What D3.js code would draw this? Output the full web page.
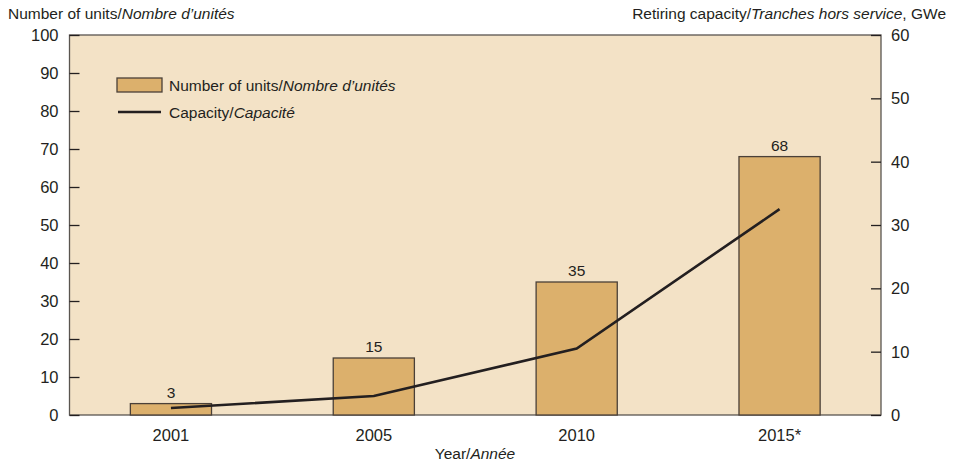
<!DOCTYPE html>
<html><head><meta charset="utf-8">
<script src="https://cdn.jsdelivr.net/npm/d3@7"></script>
<style>
body{margin:0;background:#fff;}
text{font-family:"Liberation Sans",Arial,sans-serif;fill:#231f20;}
</style></head>
<body><svg id="c" width="954" height="464"></svg>
<script>
const years = ["2001","2005","2010","2015*"];
const units = [3,15,35,68];
const capacity = [1.1,3.0,10.5,32.5];
const leftTicks = [0,10,20,30,40,50,60,70,80,90,100];
const rightTicks = [0,10,20,30,40,50,60];

const svg = d3.select("#c");
const L=69.5,R=881,T=35,B=415;
const x = d3.scaleBand().domain(years).range([L,R]).paddingInner(0.6).paddingOuter(0.3);
const yL = d3.scaleLinear().domain([0,100]).range([B,T]);
const yR = d3.scaleLinear().domain([0,60]).range([B,T]);

svg.append("rect").attr("x",L).attr("y",T).attr("width",R-L).attr("height",B-T)
  .attr("fill","#f3e2c6").attr("stroke","#5a5550").attr("stroke-width",1.3);

// left axis
const gl = svg.append("g").attr("transform",`translate(${L},0)`)
  .call(d3.axisRight(yL).tickValues(leftTicks).tickSize(10).tickFormat(""));
gl.select(".domain").remove();
gl.selectAll("line").attr("stroke","#231f20").attr("stroke-width",1.3);
svg.append("g").selectAll("text").data(leftTicks).join("text")
  .attr("x",L-11).attr("y",d=>yL(d)).attr("dy","0.36em").attr("text-anchor","end")
  .attr("font-size",16.5).text(d=>d);

// right axis
const gr = svg.append("g").attr("transform",`translate(${R},0)`)
  .call(d3.axisLeft(yR).tickValues(rightTicks).tickSize(10).tickFormat(""));
gr.select(".domain").remove();
gr.selectAll("line").attr("stroke","#231f20").attr("stroke-width",1.3);
svg.append("g").selectAll("text").data(rightTicks).join("text")
  .attr("x",R+10).attr("y",d=>yR(d)).attr("dy","0.36em").attr("text-anchor","start")
  .attr("font-size",16.5).text(d=>d);

// bars
svg.append("g").selectAll("rect").data(units).join("rect")
  .attr("x",(d,i)=>x(years[i])).attr("width",x.bandwidth())
  .attr("y",d=>yL(d)).attr("height",d=>B-yL(d))
  .attr("fill","#dcb06c").attr("stroke","#4a4038").attr("stroke-width",1.3);
svg.append("g").selectAll("text").data(units).join("text")
  .attr("x",(d,i)=>x(years[i])+x.bandwidth()/2).attr("y",d=>yL(d)-6)
  .attr("text-anchor","middle").attr("font-size",15.5).text(d=>d);

// line
const line = d3.line().x((d,i)=>x(years[i])+x.bandwidth()/2).y(d=>yR(d));
svg.append("path").datum(capacity).attr("d",line).attr("fill","none")
  .attr("stroke","#231f20").attr("stroke-width",2.6);

// x labels
svg.append("g").selectAll("text").data(years).join("text")
  .attr("x",d=>x(d)+x.bandwidth()/2).attr("y",441).attr("text-anchor","middle")
  .attr("font-size",16.5).text(d=>d);

// titles
const t1 = svg.append("text").attr("x",8).attr("y",19).attr("font-size",15.5);
t1.append("tspan").text("Number of units/");
t1.append("tspan").attr("font-style","italic").text("Nombre d\u2019unités");
const t2 = svg.append("text").attr("x",946).attr("y",19).attr("font-size",15.5).attr("text-anchor","end");
t2.append("tspan").text("Retiring capacity/");
t2.append("tspan").attr("font-style","italic").text("Tranches hors service");
t2.append("tspan").text(", GWe");
const t3 = svg.append("text").attr("x",475).attr("y",459).attr("font-size",15.5).attr("text-anchor","middle");
t3.append("tspan").text("Year/");
t3.append("tspan").attr("font-style","italic").text("Année");

// legend
svg.append("rect").attr("x",117).attr("y",78).attr("width",45).attr("height",14)
  .attr("fill","#dcb06c").attr("stroke","#4a4038").attr("stroke-width",1.3);
svg.append("line").attr("x1",118).attr("x2",161).attr("y1",112).attr("y2",112)
  .attr("stroke","#231f20").attr("stroke-width",2.6);
const l1 = svg.append("text").attr("x",169).attr("y",91).attr("font-size",15.5);
l1.append("tspan").text("Number of units/");
l1.append("tspan").attr("font-style","italic").text("Nombre d\u2019unités");
const l2 = svg.append("text").attr("x",169).attr("y",118).attr("font-size",15.5);
l2.append("tspan").text("Capacity/");
l2.append("tspan").attr("font-style","italic").text("Capacité");
</script></body></html>
